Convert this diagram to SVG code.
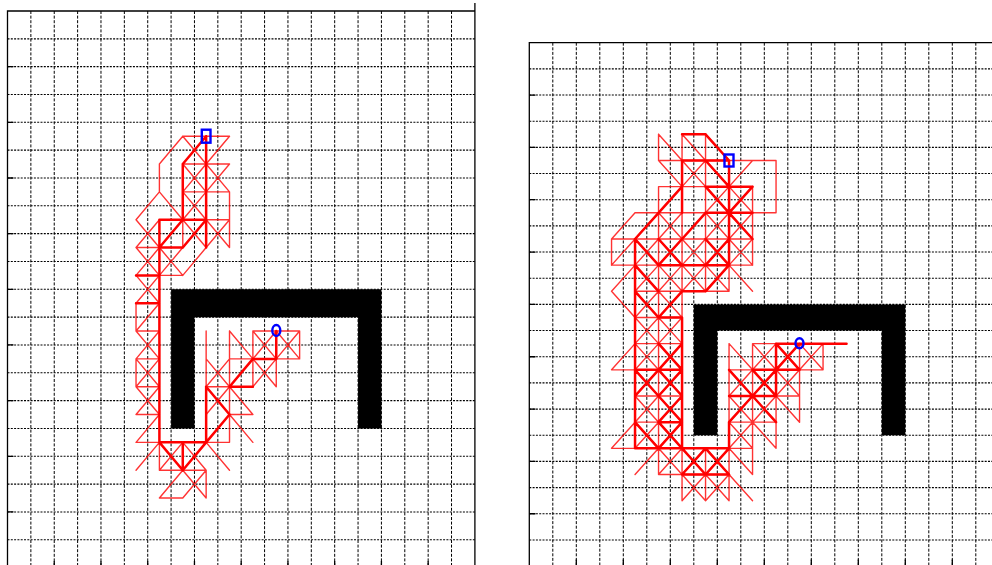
<svg xmlns="http://www.w3.org/2000/svg" width="992" height="565" viewBox="0 0 992 565">
<style>
.gv{fill:none;stroke:#000;stroke-width:1;stroke-dasharray:3 1.6}
.gh{fill:none;stroke:#000;stroke-width:1.1;stroke-dasharray:2 1.3}
.ax{fill:none;stroke:#000;stroke-width:1.3}
.obs{fill:#000;stroke:none}
.t{fill:none;stroke:#ff0000;stroke-width:1.4;stroke-opacity:0.8;stroke-linecap:round;stroke-linejoin:round}
.k{fill:none;stroke:#ff0000;stroke-width:2.5;stroke-linecap:round;stroke-linejoin:round}
.mk{fill:none;stroke:#0000ff;stroke-width:2.4}
</style>
<rect width="992" height="565" fill="#fff"/>

<g id="panel-left">
  <g id="left-grid">
    <path class="gv" d="M30.87 11V568M54.24 11V568M77.61 11V568M100.98 11V568M124.35 11V568M147.72 11V568M171.09 11V568M194.46 11V568M217.83 11V568M241.2 11V568M264.57 11V568M287.94 11V568M311.31 11V568M334.68 11V568M358.05 11V568M381.42 11V568M404.79 11V568M428.16 11V568M451.53 11V568"/>
    <path class="gh" d="M7.5 38.83H474.9M7.5 66.66H474.9M7.5 94.49H474.9M7.5 122.32H474.9M7.5 150.15H474.9M7.5 177.98H474.9M7.5 205.81H474.9M7.5 233.64H474.9M7.5 261.47H474.9M7.5 289.3H474.9M7.5 317.13H474.9M7.5 344.96H474.9M7.5 372.79H474.9M7.5 400.62H474.9M7.5 428.45H474.9M7.5 456.28H474.9M7.5 484.11H474.9M7.5 511.94H474.9M7.5 539.77H474.9"/>
    <path class="ax" d="M7.5 567.6V11H474.9V567.6M474.9 3V11"/>
    <path class="ax" d="M7.5 66.66H13.5M7.5 122.32H13.5M7.5 177.98H13.5M7.5 233.64H13.5M7.5 289.3H13.5M7.5 344.96H13.5M7.5 400.62H13.5M7.5 456.28H13.5M7.5 511.94H13.5M54.24 567.6V561M100.98 567.6V561M147.72 567.6V561M194.46 567.6V561M241.2 567.6V561M287.94 567.6V561M334.68 567.6V561M381.42 567.6V561M428.16 567.6V561"/>
  </g>
  <g id="left-map" transform="translate(19.185,24.915) scale(23.37,27.83)">
    <path id="left-obstacle" class="obs" d="M6.5 14.5V9.5H15.5V14.5H14.5V10.5H7.5V14.5Z"/>
    <g id="left-search">
      <path class="t" vector-effect="non-scaling-stroke" d="M7 4L9 4M7 4L6 5M6 5L6 6M6 6L5 7M6 6L7 7M7 4L8 5M9 4L8 5M7 5L9 5M7 5L8 6M8 5L7 6M8 5L9 6M9 5L8 6M7 6L9 6M7 6L8 7M8 6L7 7M9 6L9 8M8 7L9 7M8 7L9 8M9 7L8 8M7 7L8 8M7 7L7 8M5 7L6 8M5 8L6 7M5 8L6 8M5 8L6 9M6 8L5 9M6 8L7 9M7 8L6 9M8 8L7 9M6 9L7 9M5 9L6 10M6 9L5 10M5 10L5 11M6 10L5 11M5 11L6 11M5 11L6 12M6 11L5 12M5 12L6 12M5 12L5 13M5 12L6 13M6 12L5 13M5 13L6 13M5 13L6 14M6 13L5 14M5 14L6 14M6 14L5 15M5 15L6 15M6 15L5 16M7 15L6 16M6 15L6 16M7 15L8 16M6 16L8 16M7 16L8 17M8 16L7 17M8 16L8 17M6 17L7 17M6 17L7 16M8 15L9 16M8 15L9 15M9 13L9 15M8 11L8 13M9 11L9 13M9 11L10 12M8 12L9 13M9 12L8 13M9 12L10 12M11 12L12 12M10 11L12 11M10 11L10 13M11 12L11 13M12 11L12 12M10 11L11 12M11 11L10 12M11 11L12 12M12 11L11 12M10 12L11 13M11 12L10 13M8 13L9 13M9 13L8 14M9 13L10 14M9 14L10 14M9 14L10 15"/>
      <path class="k" vector-effect="non-scaling-stroke" d="M8 4L7 5M8 4L8 8M7 5L7 7M6 7L8 7M7 7L6 8M8 7L7 8M6 7L6 15M6 8L7 8M5 9L6 9M5 10L6 10M6 15L8 15M6 15L7 16M7 15L7 16M8 15L7 16M8 13L8 15M8 15L9 14M8 13L9 14M9 13L10 13M9 13L10 12M10 12L11 12M11 11L11 12"/>
    </g>
  </g>
  <g id="left-markers">
    <rect class="mk" x="201.8" y="129.7" width="8.7" height="13"/>
    <ellipse class="mk" cx="276.3" cy="330.5" rx="4" ry="5.5"/>
  </g>
</g>

<g id="panel-right">
  <g id="right-grid">
    <path class="gv" d="M552.8 42.7V566M576.3 42.7V566M599.8 42.7V566M623.3 42.7V566M646.8 42.7V566M670.3 42.7V566M693.8 42.7V566M717.3 42.7V566M740.8 42.7V566M764.3 42.7V566M787.8 42.7V566M811.3 42.7V566M834.8 42.7V566M858.3 42.7V566M881.8 42.7V566M905.3 42.7V566M928.8 42.7V566M952.3 42.7V566M975.8 42.7V566"/>
    <path class="gh" d="M529.3 68.87H992M529.3 95.04H992M529.3 121.21H992M529.3 147.38H992M529.3 173.55H992M529.3 199.72H992M529.3 225.89H992M529.3 252.06H992M529.3 278.23H992M529.3 304.4H992M529.3 330.57H992M529.3 356.74H992M529.3 382.91H992M529.3 409.08H992M529.3 435.25H992M529.3 461.42H992M529.3 487.59H992M529.3 513.76H992M529.3 539.93H992"/>
    <path class="ax" d="M529.3 566V42.7H992"/>
    <path class="ax" d="M529.3 95.04H535.5M529.3 147.38H535.5M529.3 199.72H535.5M529.3 252.06H535.5M529.3 304.4H535.5M529.3 356.74H535.5M529.3 409.08H535.5M529.3 461.42H535.5M529.3 513.76H535.5M576.3 566V559.5M623.3 566V559.5M670.3 566V559.5M717.3 566V559.5M764.3 566V559.5M811.3 566V559.5M858.3 566V559.5M905.3 566V559.5M952.3 566V559.5"/>
  </g>
  <g id="right-map" transform="translate(541.05,55.785) scale(23.5,26.17)">
    <path id="right-obstacle" class="obs" d="M6.5 14.5V9.5H15.5V14.5H14.5V10.5H7.5V14.5Z"/>
    <g id="right-search">
      <path class="t" vector-effect="non-scaling-stroke" d="M6 4H7V5H6ZM6 4L7 5M7 4L6 5M7 5H8V6H7ZM7 5L8 6M8 5L7 6M8 5H9V6H8ZM8 5L9 6M9 5L8 6M5 6H6V7H5ZM5 6L6 7M6 6L5 7M7 6H8V7H7ZM7 6L8 7M8 6L7 7M8 6H9V7H8ZM8 6L9 7M9 6L8 7M4 7H5V8H4ZM4 7L5 8M5 7L4 8M5 7H6V8H5ZM5 7L6 8M6 7L5 8M6 7H7V8H6ZM6 7L7 8M7 7L6 8M7 7H8V8H7ZM7 7L8 8M8 7L7 8M8 7H9V8H8ZM8 7L9 8M9 7L8 8M4 8H5V9H4ZM4 8L5 9M5 8L4 9M5 8H6V9H5ZM5 8L6 9M6 8L5 9M6 8H7V9H6ZM6 8L7 9M7 8L6 9M7 8H8V9H7ZM7 8L8 9M8 8L7 9M4 9H5V10H4ZM4 9L5 10M5 9L4 10M5 9H6V10H5ZM5 9L6 10M6 9L5 10M4 10H5V11H4ZM4 10L5 11M5 10L4 11M5 10H6V11H5ZM5 10L6 11M6 10L5 11M4 11H5V12H4ZM4 11L5 12M5 11L4 12M5 11H6V12H5ZM5 11L6 12M6 11L5 12M4 12H5V13H4ZM4 12L5 13M5 12L4 13M5 12H6V13H5ZM5 12L6 13M6 12L5 13M4 13H5V14H4ZM4 13L5 14M5 13L4 14M5 13H6V14H5ZM5 13L6 14M6 13L5 14M4 14H5V15H4ZM4 14L5 15M5 14L4 15M5 14H6V15H5ZM5 14L6 15M6 14L5 15M5 15H6V16H5ZM5 15L6 16M6 15L5 16M6 15H7V16H6ZM6 15L7 16M7 15L6 16M7 15H8V16H7ZM7 15L8 16M8 15L7 16M6 16L7 17M7 16L6 17M7 16L8 17M8 16L7 17M6 16L6 17M7 16L7 17M8 16L8 17M9 11H10V12H9ZM9 11L10 12M10 11L9 12M10 11H11V12H10ZM10 11L11 12M11 11L10 12M11 11H12V12H11ZM11 11L12 12M12 11L11 12M8 12H9V13H8ZM8 12L9 13M9 12L8 13M9 12H10V13H9ZM9 12L10 13M10 12L9 13M10 12H11V13H10ZM10 12L11 13M11 12L10 13M8 13H9V14H8ZM8 13L9 14M9 13L8 14M9 13H10V14H9ZM9 13L10 14M10 13L9 14M8 14H9V15H8ZM8 14L9 15M9 14L8 15M5 3L5 4M5 3L6 4M6 3L7 3M6 3L6 4M6 3L7 4M7 3L7 4M7 3L8 4M5 4L6 4M7 4L8 4M8 4L10 4M10 4L10 6M9 6L10 6M5 4L6 5M7 4L8 5M9 4L8 5M8 4L8 5M7 4L7 5M5 5L7 5M5 5L5 6M6 5L5 6M6 5L6 6M4 6L5 6M4 6L3 7M5 6L4 7M6 6L7 6M6 6L6 7M3 7L4 7M3 7L3 8M4 7L3 8M3 8L4 8M9 7L9 8M4 8L3 9M3 9L4 10M8 8L8 9M8 8L9 9M4 11L3 12M3 12L4 12M4 14L3 15M3 15L4 15M5 15L4 16M8 15L9 16M8 15L9 15M9 15L9 16M8 15L8 17M8 16L9 17M8 11L9 12M8 11L8 12M9 11L13 11M10 13L11 14M11 13L11 14M10 14L10 15M9 14L10 15"/>
      <path class="k" vector-effect="non-scaling-stroke" d="M6 3L7 3M7 3L8 4M6 4L8 4M6 4L6 6M7 4L8 5M8 4L8 8M7 5L9 5M6 5L5 6M5 6L4 7M7 5L8 6M9 5L8 6M7 6L9 6M7 6L6 7M8 6L9 7M4 7L4 15M4 7L5 8M5 7L6 8M6 7L5 8M7 7L8 8M8 7L7 8M4 8L5 9M5 8L8 8M8 8L7 9M6 9L7 9M6 9L5 10M4 9L5 10M5 10L6 10M6 10L6 15M5 11L6 12M6 11L5 12M4 12L6 12M4 12L5 13M5 12L4 13M5 12L6 13M6 12L5 13M5 13L6 14M6 13L5 14M5 14L6 14M4 14L5 15M5 14L6 15M6 14L5 15M4 15L8 15M6 15L7 16M7 15L6 16M7 15L8 16M8 15L7 16M6 16L8 16M8 14L8 15M8 14L9 13M9 13L10 12M10 12L11 11M10 11L11 12M10 11L13 11M9 12L11 12M8 12L9 13M9 12L10 13M10 12L9 13M9 13L10 14M10 11L10 13M8 13L10 13M9 13L8 14"/>
    </g>
  </g>
  <g id="right-markers">
    <rect class="mk" x="724.5" y="154.5" width="9" height="12"/>
    <ellipse class="mk" cx="799.5" cy="343.2" rx="4" ry="5"/>
  </g>
</g>
</svg>
